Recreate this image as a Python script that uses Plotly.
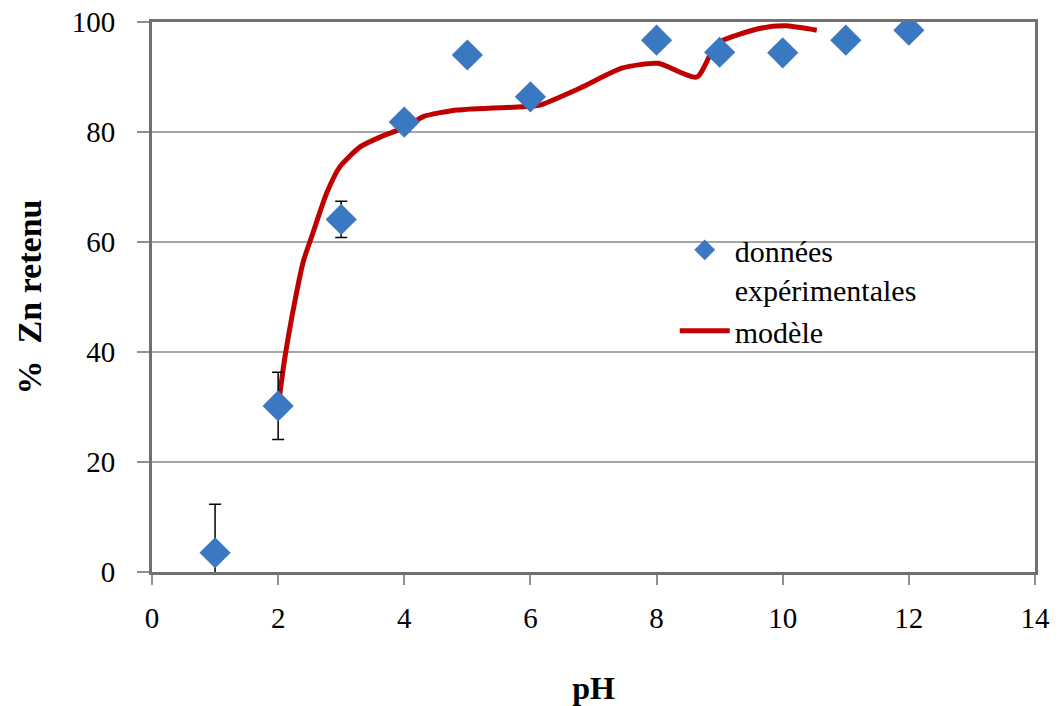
import plotly.graph_objects as go

# Experimental data
ph_exp = [1, 2, 3, 4, 5, 6, 8, 9, 10, 11, 12]
zn_exp = [3.5, 30.2, 64.1, 81.8, 94.0, 86.4, 96.7, 94.5, 94.4, 96.7, 98.5]
err_exp = [8.8, 6.1, 3.3, 1.6, 0, 1.2, 0, 0, 0, 0, 0]

# Model curve
ph_model = [2.0, 2.1, 2.27, 2.4, 2.55, 2.77, 2.98, 3.3, 3.62, 4.04, 4.3, 4.83,
            5.88, 6.15, 6.79, 7.45, 8.02, 8.64, 8.96, 9.67, 10.04, 10.54]
zn_model = [30.0, 38.5, 49.5, 56.5, 61.6, 68.9, 73.7, 77.3, 79.1, 81.0, 82.8, 84.0,
            84.6, 84.9, 88.0, 91.6, 92.5, 90.0, 96.1, 98.9, 99.3, 98.5]

FONT = "Liberation Serif, Times New Roman, serif"

fig = go.Figure()
fig.add_trace(go.Scatter(
    x=ph_model, y=zn_model, mode="lines", name="modèle",
    line=dict(color="#c00000", width=5, shape="spline", smoothing=0.6),
))
fig.add_trace(go.Scatter(
    x=ph_exp, y=zn_exp, mode="markers", name="données<br>expérimentales",
    marker=dict(symbol="diamond", size=24, color="#3a78c2",
                line=dict(width=0)),
    error_y=dict(type="data", array=err_exp, visible=True, color="black",
                 thickness=1.5, width=6),
    cliponaxis=True,
))

fig.update_layout(
    width=1058, height=706,
    margin=dict(l=152, r=23, t=22, b=134),
    paper_bgcolor="white", plot_bgcolor="white",
    font=dict(family=FONT, size=22, color="black"),
    showlegend=True,
    legend=dict(x=0.592, y=0.633, xanchor="left", yanchor="top",
                traceorder="reversed", valign="top",
                font=dict(family=FONT, size=30, color="black"),
                bgcolor="rgba(0,0,0,0)", itemwidth=50, tracegroupgap=0),
    xaxis=dict(
        range=[0, 14], dtick=2, tick0=0, automargin=False,
        showgrid=False, zeroline=False,
        showline=True, linecolor="#707070", linewidth=3, mirror=True,
        ticks="outside", ticklen=10, tickcolor="#909090", tickwidth=1.5,
        ticklabelstandoff=8, ticklabeloverflow="allow",
        tickfont=dict(family=FONT, size=29),
        title=dict(text="<b>pH</b>", font=dict(family=FONT, size=32), standoff=44),
    ),
    yaxis=dict(
        range=[0, 100], dtick=20, tick0=0, automargin=False,
        showgrid=True, gridcolor="#a6a6a6", gridwidth=1.5, zeroline=False,
        showline=True, linecolor="#707070", linewidth=3, mirror=True,
        ticks="outside", ticklen=12, tickcolor="#909090", tickwidth=1.5,
        ticklabelstandoff=16, ticklabeloverflow="allow",
        tickfont=dict(family=FONT, size=29),
        title=dict(text="<b>%  Zn retenu</b>", font=dict(family=FONT, size=34), standoff=20),
    ),
)

fig.write_html("out.html", config={"displayModeBar": False},
               post_script="document.body.style.margin='0';")
